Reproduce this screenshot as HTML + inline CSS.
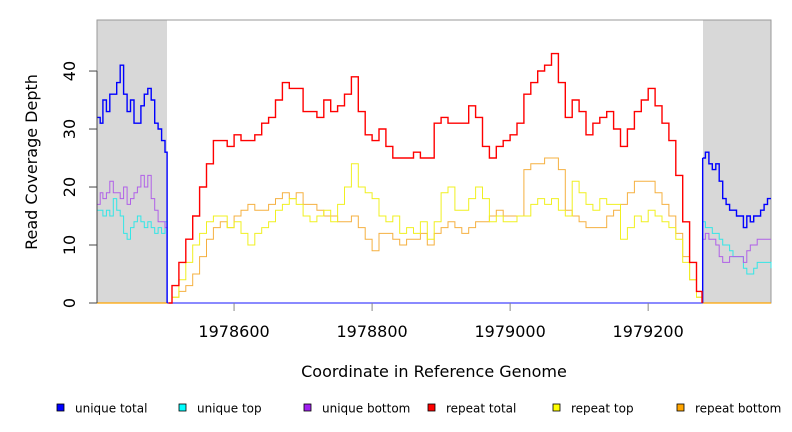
<!DOCTYPE html>
<html><head><meta charset="utf-8"><style>
body{margin:0;background:#fff;}
svg{display:block;font-family:"DejaVu Sans","Liberation Sans",sans-serif;}
</style></head><body>
<svg id="chart" width="792" height="432" viewBox="0 0 792 432">
<rect x="97" y="20" width="70" height="283" fill="#d8d8d8"/>
<rect x="703" y="20" width="68" height="283" fill="#d8d8d8"/>
<rect x="97" y="20" width="674" height="283" fill="none" stroke="#999" stroke-width="1"/>
<g id="series"></g>
<g id="axes"></g>
<text transform="translate(37,162) rotate(-90)" text-anchor="middle" font-size="16">Read Coverage Depth</text>
<text x="434" y="377" text-anchor="middle" font-size="16">Coordinate in Reference Genome</text>
<g id="legend"></g>
</svg>
<script>
const xTicks=[1978600,1978800,1979000,1979200];
const yTicks=[0,10,20,30,40];
const coreX=[1978505,1978510,1978520,1978530,1978540,1978550,1978560,1978570,1978580,1978590,1978600,1978610,1978620,1978630,1978640,1978650,1978660,1978670,1978680,1978690,1978700,1978710,1978720,1978730,1978740,1978750,1978760,1978770,1978780,1978790,1978800,1978810,1978820,1978830,1978840,1978850,1978860,1978870,1978880,1978890,1978900,1978910,1978920,1978930,1978940,1978950,1978960,1978970,1978980,1978990,1979000,1979010,1979020,1979030,1979040,1979050,1979060,1979070,1979080,1979090,1979100,1979110,1979120,1979130,1979140,1979150,1979160,1979170,1979180,1979190,1979200,1979210,1979220,1979230,1979240,1979250,1979260,1979270,1979278];
const repeatTotal=[0,3,7,11,15,20,24,28,28,27,29,28,28,29,31,32,35,38,37,37,33,33,32,35,33,34,36,39,33,29,28,30,27,25,25,25,26,25,25,31,32,31,31,31,34,32,27,25,27,28,29,31,36,38,40,41,43,38,32,35,33,29,31,32,33,30,27,30,33,35,37,34,31,28,22,14,7,2,0];
const repeatTop=[0,1,4,7,10,12,14,15,15,13,14,12,10,12,13,14,16,17,18,17,15,14,15,16,14,17,20,24,20,19,18,15,14,15,12,13,12,14,11,14,19,20,16,16,18,20,18,14,15,14,14,15,15,17,18,17,18,16,15,21,19,17,16,18,17,17,11,13,15,14,16,15,14,13,11,7,4,1,0];
const repeatBottom=[0,1,2,3,5,8,11,13,14,13,15,16,17,16,16,17,18,19,18,19,17,17,16,15,15,14,14,15,13,11,9,12,12,11,10,11,11,12,10,12,13,14,13,12,13,14,14,15,16,15,15,15,23,24,24,25,25,23,16,15,14,13,13,13,15,16,17,19,21,21,21,19,17,15,12,8,4,1,0];
const leftX=[1978401,1978406,1978410,1978415,1978420,1978425,1978430,1978435,1978440,1978445,1978450,1978455,1978460,1978465,1978470,1978475,1978480,1978485,1978490,1978495,1978500,1978503];
const leftTotal=[32,31,35,33,36,36,38,41,36,33,35,31,31,34,36,37,35,31,30,28,26,0];
const leftTop=[16,16,15,16,15,18,16,15,12,11,13,14,15,14,13,14,13,12,13,12,14,0];
const leftBottom=[17,19,18,19,21,19,19,18,20,17,18,19,20,22,20,22,18,16,14,14,13,0];
const rightX=[1979279,1979283,1979288,1979293,1979298,1979303,1979308,1979313,1979318,1979323,1979328,1979333,1979338,1979343,1979348,1979353,1979358,1979363,1979368,1979373,1979378];
const rightTotal=[25,26,24,23,24,21,18,17,16,16,15,15,13,15,14,15,15,16,17,18,18];
const rightTop=[14,13,13,12,12,11,10,10,9,8,8,8,6,5,5,6,7,7,7,7,6];
const rightBottom=[11,12,11,11,10,8,7,7,8,8,8,8,7,9,10,10,11,11,11,11,11];
const legendLabels=["unique total","unique top","unique bottom","repeat total","repeat top","repeat bottom"];
const legendColors=["#0000ff","#00ffff","#a020f0","#ff0000","#ffff00","#ffa500"];

const NS="http://www.w3.org/2000/svg";
const X0=1978401.4,X1=1979378,PX0=97,PX1=771,PY0=303,PY1=20,YMAX=48.8;
function sx(v){return PX0+(v-X0)*(PX1-PX0)/(X1-X0);}
function sy(v){return PY0-v*(PY0-PY1)/YMAX;}
function stepPath(xs,ys){let d="M"+sx(xs[0]).toFixed(1)+","+sy(ys[0]).toFixed(1);
 for(let i=1;i<xs.length;i++){d+="H"+sx(xs[i]).toFixed(1)+"V"+sy(ys[i]).toFixed(1);}return d;}
const sg=document.getElementById('series');
function addLine(d,color,w,name){const p=document.createElementNS(NS,'path');
 p.setAttribute('d',d);p.setAttribute('fill','none');p.setAttribute('stroke',color);p.setAttribute('stroke-width',w);
 
 
 sg.appendChild(p);}
addLine("M"+sx(X0)+","+sy(0)+"H"+sx(1978505),"#ffa500",1.2,'repeat-bottom-left-baseline');
addLine("M"+sx(1979278)+","+sy(0)+"H"+sx(X1),"#ffa500",1.2,'repeat-bottom-right-baseline');
addLine("M"+sx(1978503)+","+sy(0)+"H"+sx(1979279),"#4444ff",1.2,'unique-total-core-baseline');
addLine(stepPath(leftX,leftTop),"#33e6e6",1,'unique-top-left');
addLine(stepPath(rightX,rightTop),"#33e6e6",1,'unique-top-right');
addLine(stepPath(leftX,leftBottom),"#b060e8",1,'unique-bottom-left');
addLine(stepPath(rightX,rightBottom),"#b060e8",1,'unique-bottom-right');
addLine(stepPath(leftX,leftTotal),"#0000ff",1.4,'unique-total-left');
addLine(stepPath(rightX,rightTotal),"#0000ff",1.4,'unique-total-right');
addLine("M"+sx(1979279)+","+sy(0)+"V"+sy(rightTotal[0]),"#0000ff",1.4,'unique-total-right-edge');
addLine(stepPath(coreX,repeatBottom),"#f5b040",1,'repeat-bottom-line');
addLine(stepPath(coreX,repeatTop),"#f0f020",1,'repeat-top-line');
addLine(stepPath(coreX,repeatTotal),"#ff0000",1.4,'repeat-total-line');
const ax=document.getElementById('axes');
xTicks.forEach(t=>{const l=document.createElementNS(NS,'line');
 l.setAttribute('x1',sx(t));l.setAttribute('x2',sx(t));l.setAttribute('y1',PY0);l.setAttribute('y2',PY0+8);l.setAttribute('stroke','#888');
 
 
 ax.appendChild(l);
 const tx=document.createElementNS(NS,'text');tx.setAttribute('x',sx(t));tx.setAttribute('y',PY0+34);tx.setAttribute('text-anchor','middle');tx.setAttribute('font-size','16');tx.textContent=t;
 
 
 ax.appendChild(tx);});
yTicks.forEach(t=>{const l=document.createElementNS(NS,'line');
 l.setAttribute('x1',PX0-8);l.setAttribute('x2',PX0);l.setAttribute('y1',sy(t));l.setAttribute('y2',sy(t));l.setAttribute('stroke','#444');
 
 
 ax.appendChild(l);
 const tx=document.createElementNS(NS,'text');tx.setAttribute('transform','translate(75,'+sy(t)+') rotate(-90)');tx.setAttribute('text-anchor','middle');tx.setAttribute('font-size','16');tx.textContent=t;
 
 
 ax.appendChild(tx);});
const yl=document.createElementNS(NS,'line');yl.setAttribute('x1',PX0);yl.setAttribute('x2',PX0);yl.setAttribute('y1',sy(0));yl.setAttribute('y2',sy(40));yl.setAttribute('stroke','#444');


ax.appendChild(yl);
const lg=document.getElementById('legend');
const legX=[57,179,304,428,553,677];
legendLabels.forEach((lab,i)=>{const r=document.createElementNS(NS,'rect');
 r.setAttribute('x',legX[i]);r.setAttribute('y',404);r.setAttribute('width',7);r.setAttribute('height',7);r.setAttribute('fill',legendColors[i]);r.setAttribute('stroke','#000');r.setAttribute('stroke-width','0.8');
 
 
 lg.appendChild(r);
 const t=document.createElementNS(NS,'text');t.setAttribute('x',legX[i]+18);t.setAttribute('y',412.5);t.setAttribute('font-size','12');t.textContent=lab;
 
 
 lg.appendChild(t);});
</script>
</body></html>
